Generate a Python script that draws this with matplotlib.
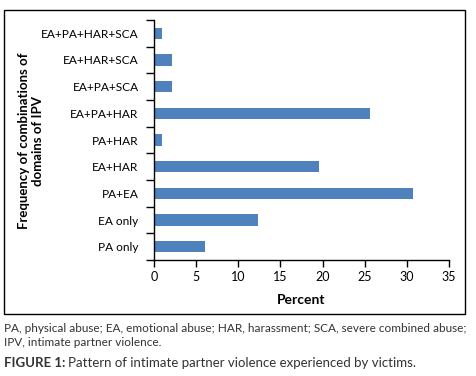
import matplotlib
matplotlib.use("Agg")
import matplotlib.pyplot as plt
from matplotlib.patches import Rectangle

# data
categories = ["PA only", "EA only", "PA+EA", "EA+HAR", "PA+HAR",
              "EA+PA+HAR", "EA+PA+SCA", "EA+HAR+SCA", "EA+PA+HAR+SCA"]
percent = [6.1, 12.3, 30.7, 19.6, 1.0, 25.6, 2.1, 2.1, 1.0]
xticks = [0, 5, 10, 15, 20, 25, 30, 35]

plt.rcParams['font.family'] = ['Lato', 'DejaVu Sans']

W, H = 476, 376
fig = plt.figure(figsize=(W / 100, H / 100), dpi=100)
ax = fig.add_axes([154 / W, 1 - 260 / H, (449 - 154) / W, (260 - 20) / H])

ax.barh(range(len(categories)), percent, height=0.43, color="#4F81BD")
ax.set_ylim(-0.5, len(categories) - 0.5)
ax.set_xlim(0, 35)
ax.set_xticks(xticks)
ax.set_yticks(range(len(categories)))
ax.set_yticklabels(categories)
# category boundary ticks on the y axis
ax.set_yticks([i - 0.5 for i in range(len(categories) + 1)], minor=True)
ax.tick_params(axis="y", which="major", length=0, pad=11, labelsize=8.6)
ax.tick_params(axis="y", which="minor", length=6, width=1)
ax.tick_params(axis="x", length=5, width=1, labelsize=9, pad=3)
for s in ["top", "right"]:
    ax.spines[s].set_visible(False)
for s in ["left", "bottom"]:
    ax.spines[s].set_linewidth(1)

ax.set_xlabel("Percent", fontsize=10, fontweight="bold", labelpad=8)
fig.text(31 / W, 1 - 141 / H, "Frequency of combinations of\ndomains of IPV",
         rotation=90, ha="center", va="center", fontsize=9.5,
         fontweight="bold", linespacing=1.3)

# outer frame
fig.patches.append(Rectangle((4 / W, 1 - 314 / H), (465 - 4) / W, (314 - 10) / H,
                             transform=fig.transFigure, fill=False,
                             edgecolor="black", linewidth=1))

# caption
cap = "#333333"
fig.text(4 / W, 1 - 329 / H,
         "PA, physical abuse; EA, emotional abuse; HAR, harassment; SCA, severe combined abuse;",
         fontsize=8.5, color=cap, va="center", ha="left")
fig.text(4 / W, 1 - 343 / H, "IPV, intimate partner violence.",
         fontsize=8.5, color=cap, va="center", ha="left")
t1 = fig.text(4 / W, 1 - 363 / H, "FIGURE 1:", fontsize=9.5, color=cap,
              fontweight="bold", va="center", ha="left")
fig.canvas.draw()
bb = t1.get_window_extent()
fig.text(bb.x1 / W + 3 / W, 1 - 363 / H,
         "Pattern of intimate partner violence experienced by victims.",
         fontsize=9.5, color=cap, va="center", ha="left")

fig.savefig("out.png", dpi=100)
